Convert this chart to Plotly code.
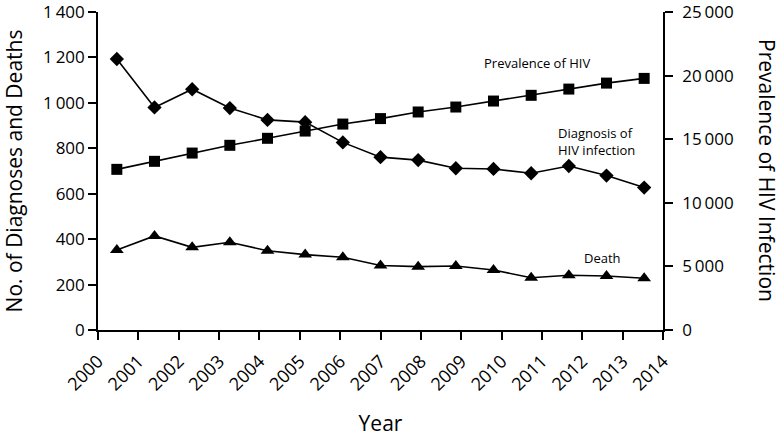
import plotly.graph_objects as go

years = [str(y) for y in range(2000, 2015)]
diagnosis = [1193, 980, 1060, 977, 925, 915, 826, 761, 748, 712, 709, 690, 722, 680, 627]
deaths = [352, 414, 364, 386, 349, 332, 320, 284, 279, 282, 264, 230, 241, 238, 228]
prevalence = [12630, 13260, 13910, 14520, 15070, 15640, 16190, 16620, 17140, 17530, 18000, 18450, 18940, 19410, 19780]
tick_years = list(range(2000, 2015))

FONT = "Open Sans"
line = dict(color="black", width=1.6)

fig = go.Figure()
fig.add_trace(go.Scatter(x=years, y=diagnosis, mode="lines+markers", name="Diagnosis of HIV infection",
                         line=line, marker=dict(symbol="diamond", size=11, color="black"),
                         xaxis="x", yaxis="y"))
fig.add_trace(go.Scatter(x=years, y=deaths, mode="lines+markers", name="Death",
                         line=line, marker=dict(symbol="triangle-up", size=12, color="black"),
                         xaxis="x", yaxis="y"))
fig.add_trace(go.Scatter(x=years, y=prevalence, mode="lines+markers", name="Prevalence of HIV",
                         line=line, marker=dict(symbol="square", size=11, color="black"),
                         xaxis="x", yaxis="y2"))
# invisible trace to anchor the visible year tick axis
fig.add_trace(go.Scatter(x=[tick_years[0], tick_years[-1]], y=[None, None], mode="markers",
                         showlegend=False, hoverinfo="skip", xaxis="x2", yaxis="y"))

axis_common = dict(showgrid=False, zeroline=False, showline=True, linecolor="black", linewidth=1.6,
                   ticks="outside", ticklen=8, tickwidth=1.6, tickcolor="black", automargin=False,
                   ticklabeloverflow="allow")

fig.update_layout(
    width=782, height=437,
    margin=dict(l=98, r=119, t=12, b=107),
    paper_bgcolor="white", plot_bgcolor="white",
    showlegend=False,
    separators=".\u2009",
    font=dict(family=FONT, color="black"),
    xaxis=dict(type="category", range=[-0.5, 14.5], visible=False, automargin=False),
    xaxis2=dict(overlaying="x", anchor="y", side="bottom", range=[2000, 2014], dtick=1,
                tickangle=-45, tickformat="d", ticklabelstandoff=4, **axis_common,
                tickfont=dict(family=FONT, size=18, color="black"),
                title=dict(text="Year", font=dict(family=FONT, size=21, color="black"), standoff=26)),
    yaxis=dict(range=[0, 1400], dtick=200, tickformat=",d", **axis_common,
               tickfont=dict(family=FONT, size=17, color="black"),
               title=dict(text="No. of Diagnoses and Deaths", font=dict(family=FONT, size=21, color="black"),
                          standoff=16)),
    yaxis2=dict(overlaying="y", side="right", anchor="x", range=[0, 25000], dtick=5000, tickformat=",d",
                ticklabelstandoff=6, **axis_common,
                tickfont=dict(family=FONT, size=17, color="black")),
)

fig.add_annotation(text="Prevalence of HIV Infection", textangle=90, xref="paper", yref="paper",
                   x=1.184, y=0.5, xanchor="center", yanchor="middle", showarrow=False,
                   font=dict(family=FONT, size=21, color="black"))
lab = dict(family=FONT, size=13, color="black")
fig.add_annotation(text="Prevalence of HIV", x=2010.88, y=1175, xref="x2", yref="y",
                   showarrow=False, font=lab, xanchor="center", yanchor="middle")
fig.add_annotation(text="Diagnosis of<br>HIV infection", x=2012.34, y=828, xref="x2", yref="y",
                   showarrow=False, font=lab, xanchor="center", yanchor="middle", align="left")
fig.add_annotation(text="Death", x=2012.5, y=317, xref="x2", yref="y",
                   showarrow=False, font=lab, xanchor="center", yanchor="middle")

fig.write_html("out.html", config={"displayModeBar": False},
               post_script="document.body.style.margin='0';")
